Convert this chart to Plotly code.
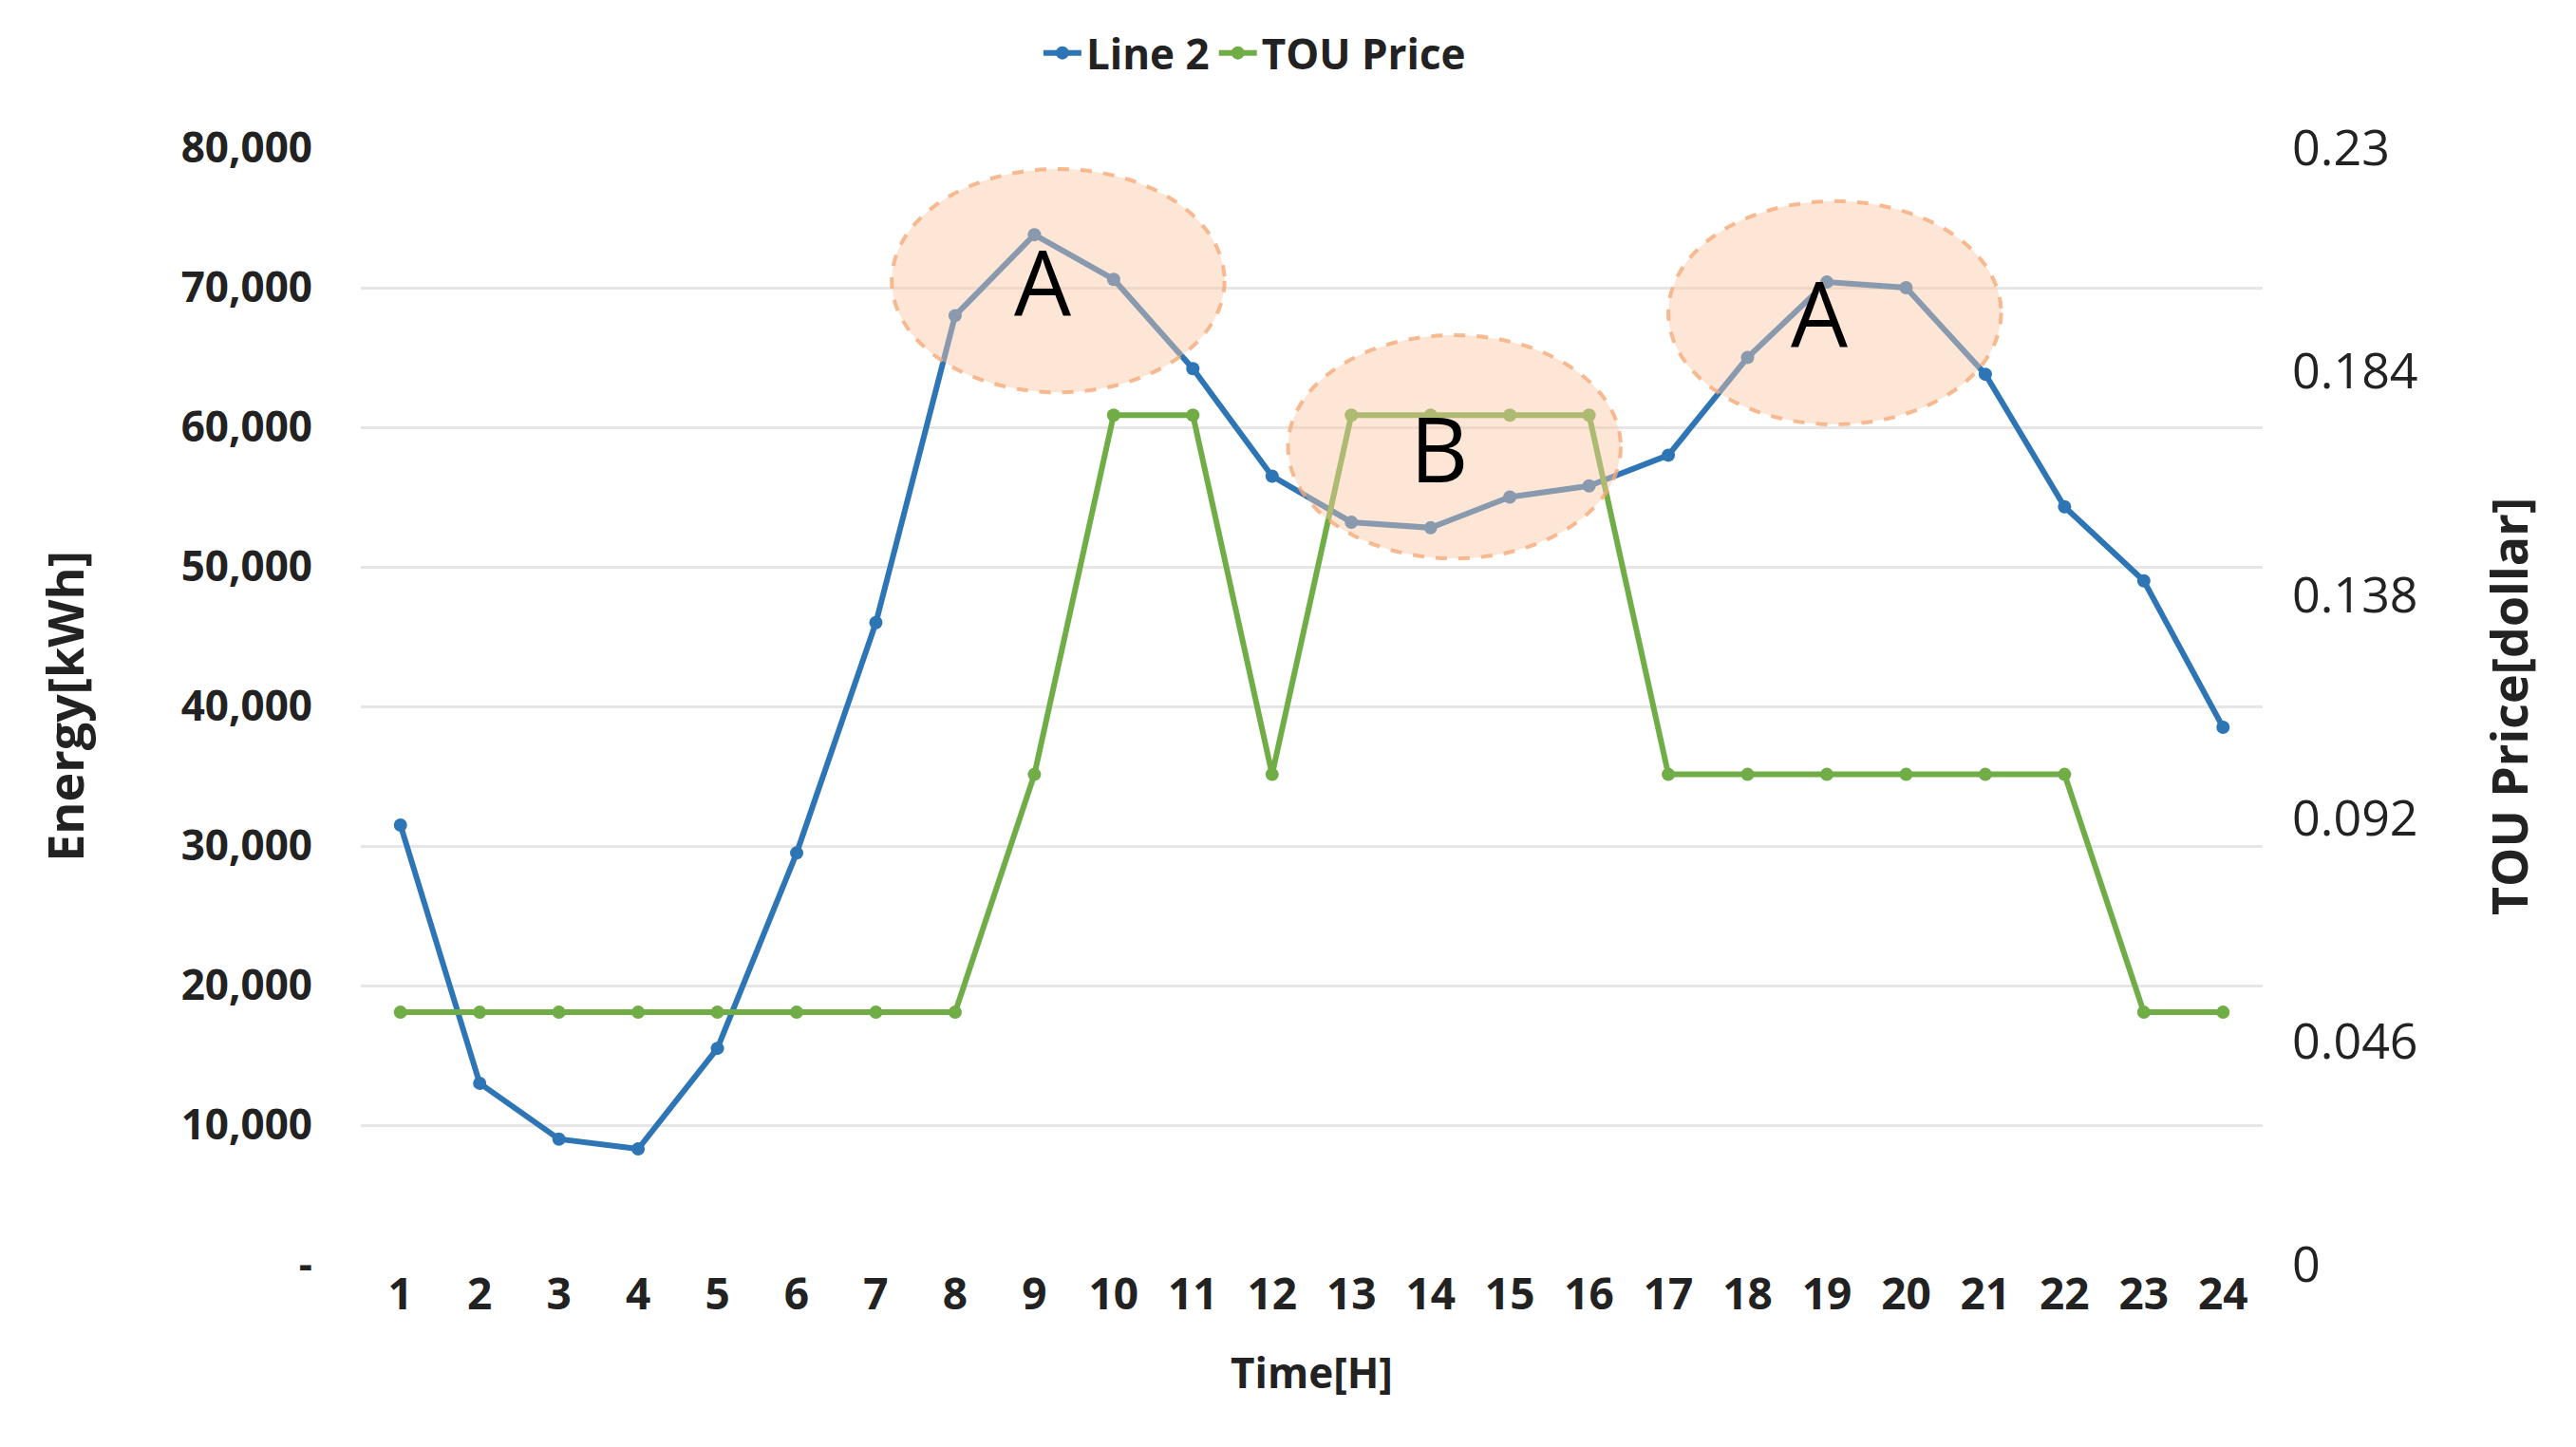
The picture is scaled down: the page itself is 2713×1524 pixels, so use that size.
import plotly.graph_objects as go

hours = list(range(1, 25))
energy = [31500, 13000, 9000, 8300, 15500, 29500, 46000, 68000, 73800, 70600, 64200, 56500,
          53200, 52800, 55000, 55800, 58000, 65000, 70400, 70000, 63800, 54300, 49000, 38500]
price = [0.052]*8 + [0.101, 0.175, 0.175, 0.101] + [0.175]*4 + [0.101]*6 + [0.052, 0.052]
left_ticks = [0, 10000, 20000, 30000, 40000, 50000, 60000, 70000, 80000]
left_labels = ["-"] + [f"{v:,}" for v in left_ticks[1:]]
right_ticks = [0, 0.046, 0.092, 0.138, 0.184, 0.23]
right_labels = ["0", "0.046", "0.092", "0.138", "0.184", "0.23"]
ellipses = [("A", 9.3, 70500, 2.1, 8000), ("B", 14.3, 58600, 2.1, 8000), ("A", 19.1, 68200, 2.1, 8000)]

F = "Open Sans"
fig = go.Figure()
fig.add_trace(go.Scatter(x=hours, y=energy, name="Line 2", mode="lines+markers",
                         line=dict(color="#2E75B6", width=6), marker=dict(size=14)))
fig.add_trace(go.Scatter(x=hours, y=price, name="TOU Price", mode="lines+markers", yaxis="y2",
                         line=dict(color="#70AD47", width=6), marker=dict(size=14)))
for lab, cx, cy, rx, ry in ellipses:
    fig.add_shape(type="circle", xref="x", yref="y", x0=cx-rx, x1=cx+rx, y0=cy-ry, y1=cy+ry,
                  fillcolor="rgba(250,200,165,0.45)", line=dict(color="rgba(245,170,120,0.8)", width=4, dash="dash"),
                  layer="above")
    fig.add_annotation(x=cx-0.2, y=cy, text=lab, showarrow=False, font=dict(family=F, size=95, color="black"))

fig.update_layout(
    width=2713, height=1524, paper_bgcolor="white", plot_bgcolor="white",
    margin=dict(l=372, r=338, t=144, b=200),
    font=dict(family=F, color="#222"),
    legend=dict(orientation="h", x=0.47, xanchor="center", y=1.085, yanchor="middle",
                font=dict(size=44, family=F, weight="bold"), itemwidth=40, tracegroupgap=0),
    xaxis=dict(range=[0.5, 24.5], tickvals=hours, tickfont=dict(size=46, weight="bold"),
               title=dict(text="Time[H]", font=dict(size=44, weight="bold"), standoff=40), showgrid=False),
    yaxis=dict(range=[0, 80000], tickvals=left_ticks, ticktext=left_labels, tickfont=dict(size=44, weight="bold"),
               gridcolor="#E6E6E6", gridwidth=3, zeroline=False, ticklabelstandoff=50,
               title=dict(text="Energy[kWh]", font=dict(size=52, weight="bold"), standoff=85)),
    yaxis2=dict(range=[0, 0.23], overlaying="y", side="right", tickvals=right_ticks, ticktext=right_labels,
                tickfont=dict(size=52), showgrid=False, zeroline=False, ticklabelstandoff=30,
                title=dict(text="TOU Price[dollar]", font=dict(size=52, weight="bold"), standoff=80)),
)
fig.write_html("out.html")
